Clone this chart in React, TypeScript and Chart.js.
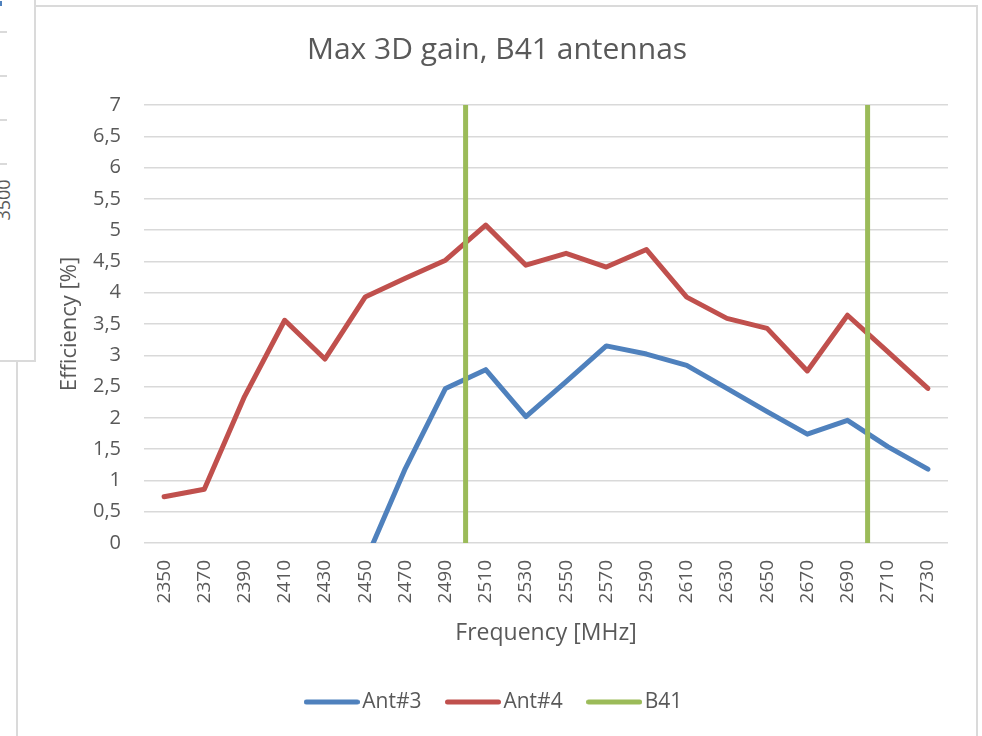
import React, { useEffect, useRef } from 'react';
import { Chart, registerables } from 'chart.js';

Chart.register(...registerables);

const TITLE = 'Max 3D gain, B41 antennas';
const X_TITLE = 'Frequency [MHz]';
const Y_TITLE = 'Efficiency [%]';

const FREQUENCIES = [2350, 2370, 2390, 2410, 2430, 2450, 2470, 2490, 2510, 2530, 2550, 2570, 2590, 2610, 2630, 2650, 2670, 2690, 2710, 2730];
const ANT3 = [null, null, null, null, null, -0.3, 1.19, 2.47, 2.77, 2.02, 2.58, 3.15, 3.02, 2.84, 2.47, 2.1, 1.74, 1.96, 1.54, 1.18];
const ANT4 = [0.74, 0.86, 2.34, 3.56, 2.94, 3.93, 4.23, 4.52, 5.08, 4.44, 4.63, 4.41, 4.69, 3.93, 3.59, 3.43, 2.75, 3.64, 3.06, 2.47];
const B41_EDGES = [2500, 2700];
const Y_MIN = 0;
const Y_MAX = 7;
const Y_STEP = 0.5;
const X_MIN = 2340;
const X_MAX = 2740;

const FONT = "'Open Sans', sans-serif";
const TEXT = '#595959';
const GRID = '#d9d9d9';
const BLUE = '#4F81BD';
const RED = '#C0504D';
const GREEN = '#9BBB59';

function legendLine(color: string) {
  const c = document.createElement('canvas');
  c.width = 56;
  c.height = 8;
  const ctx = c.getContext('2d')!;
  ctx.strokeStyle = color;
  ctx.lineWidth = 5;
  ctx.lineCap = 'round';
  ctx.beginPath();
  ctx.moveTo(2.5, 4);
  ctx.lineTo(53.5, 4);
  ctx.stroke();
  return c;
}

export default function App() {
  const ref = useRef<HTMLCanvasElement>(null);

  useEffect(() => {
    const b41Data: any[] = [];
    B41_EDGES.forEach((f, i) => {
      if (i > 0) b41Data.push({ x: (B41_EDGES[i - 1] + f) / 2, y: null });
      if (i % 2 === 0) {
        b41Data.push({ x: f, y: Y_MIN }, { x: f, y: Y_MAX });
      } else {
        b41Data.push({ x: f, y: Y_MAX }, { x: f, y: Y_MIN });
      }
    });

    const chart = new Chart(ref.current!, {
      type: 'line',
      data: {
        datasets: [
          {
            label: 'Ant#3',
            data: FREQUENCIES.map((f, i) => ({ x: f, y: ANT3[i] })),
            borderColor: BLUE,
            backgroundColor: BLUE,
            borderWidth: 5,
            pointRadius: 0,
            pointStyle: legendLine(BLUE),
            tension: 0,
            borderCapStyle: 'round',
            borderJoinStyle: 'round',
            clip: 0,
            order: 2,
          },
          {
            label: 'Ant#4',
            data: FREQUENCIES.map((f, i) => ({ x: f, y: ANT4[i] })),
            borderColor: RED,
            backgroundColor: RED,
            borderWidth: 5,
            pointRadius: 0,
            pointStyle: legendLine(RED),
            tension: 0,
            borderCapStyle: 'round',
            borderJoinStyle: 'round',
            clip: 0,
            order: 1,
          },
          {
            label: 'B41',
            data: b41Data,
            borderColor: GREEN,
            backgroundColor: GREEN,
            borderWidth: 5,
            pointRadius: 0,
            pointStyle: legendLine(GREEN),
            tension: 0,
            borderCapStyle: 'round',
            spanGaps: false,
            clip: 0,
            order: 0,
          },
        ],
      } as any,
      options: {
        animation: false,
        responsive: false,
        devicePixelRatio: 1,
        layout: { padding: { left: 0, right: 0, top: 0, bottom: 13.5 } },
        plugins: {
          title: {
            display: true,
            text: TITLE,
            color: TEXT,
            font: { family: FONT, size: 30, weight: 'normal' },
            padding: { top: 25, bottom: 37 },
          },
          legend: {
            position: 'bottom',
            labels: {
              usePointStyle: true,
              pointStyleWidth: 40,
              padding: 31.5,
              color: TEXT,
              font: { family: FONT, size: 21 },
              sort: (a: any, b: any) => a.datasetIndex - b.datasetIndex,
            },
          },
          tooltip: { enabled: false },
        },
        scales: {
          x: {
            type: 'linear',
            min: X_MIN,
            max: X_MAX,
            grid: { display: false, drawTicks: false },
            border: { display: false },
            afterBuildTicks: (s: any) => {
              s.ticks = FREQUENCIES.map((v) => ({ value: v }));
            },
            afterFit: (s: any) => {
              s.height = 117;
            },
            ticks: {
              autoSkip: false,
              minRotation: 90,
              maxRotation: 90,
              padding: 17,
              color: TEXT,
              font: { family: FONT, size: 19 },
              callback: (v: any) => String(v),
            },
            title: {
              display: true,
              text: X_TITLE,
              color: TEXT,
              font: { family: FONT, size: 23 },
              padding: { top: 0, bottom: 13.2 },
            },
          },
          y: {
            min: Y_MIN,
            max: Y_MAX,
            grid: { color: GRID, lineWidth: 1.5, drawTicks: false },
            border: { display: false },
            afterFit: (s: any) => {
              s.width = 126;
            },
            ticks: {
              stepSize: Y_STEP,
              autoSkip: false,
              padding: 23,
              color: TEXT,
              font: { family: FONT, size: 20 },
              callback: (v: any) => String(v).replace('.', ','),
            },
            title: {
              display: true,
              text: Y_TITLE,
              color: TEXT,
              font: { family: FONT, size: 22 },
              padding: { top: 38.8, bottom: 0 },
            },
          },
          spacer: {
            type: 'linear',
            position: 'right',
            display: true,
            grid: { display: false, drawTicks: false },
            border: { display: false },
            ticks: { display: false },
            afterFit: (s: any) => {
              s.width = 28;
            },
          },
        },
      } as any,
    });
    return () => chart.destroy();
  }, []);

  const overlayTicks = [31, 75, 119, 163];

  return (
    <div style={{ position: 'absolute', left: 0, top: 0, width: 982, height: 736, overflow: 'hidden', background: '#fff' }}>
      <div
        style={{
          position: 'absolute',
          left: 16,
          top: 5,
          width: 962,
          height: 800,
          border: '2px solid #dadada',
          boxSizing: 'border-box',
        }}
      />
      <canvas
        ref={ref}
        width={958}
        height={729}
        style={{ position: 'absolute', left: 18, top: 7, width: 958, height: 729 }}
      />
      <div
        style={{
          position: 'absolute',
          left: -2,
          top: -2,
          width: 38,
          height: 364,
          border: '2px solid #dadada',
          boxSizing: 'border-box',
          background: '#fff',
          overflow: 'hidden',
        }}
      >
        <div style={{ position: 'absolute', left: 0, top: 1, width: 2, height: 5, background: BLUE }} />
        {overlayTicks.map((t) => (
          <div key={t} style={{ position: 'absolute', left: 0, top: t, width: 7, height: 2, background: '#dadada' }} />
        ))}
        <span
          style={{
            position: 'absolute',
            left: 2.5,
            top: 200,
            transform: 'translate(-50%, -50%) rotate(-90deg)',
            fontFamily: FONT,
            fontSize: 18,
            lineHeight: 1,
            color: TEXT,
            whiteSpace: 'nowrap',
          }}
        >
          3500
        </span>
      </div>
    </div>
  );
}
